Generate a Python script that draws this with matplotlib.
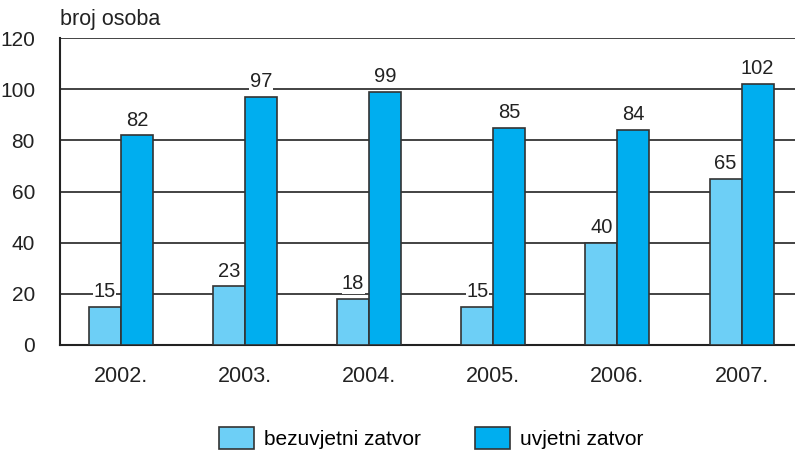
import numpy as np
import matplotlib.pyplot as plt

plt.rcParams['font.family'] = ['Liberation Sans', 'DejaVu Sans']

years = ['2002.', '2003.', '2004.', '2005.', '2006.', '2007.']
bezuvjetni = [15, 23, 18, 15, 40, 65]
uvjetni = [82, 97, 99, 85, 84, 102]

light = '#6dcff6'
dark = '#00aeef'

fig = plt.figure(figsize=(7.95, 4.51), dpi=100)
ax = fig.add_axes([60 / 795, 1 - 345 / 451, 735 / 795, 307 / 451])

x = np.arange(len(years))
w = 0.258
b1 = ax.bar(x - w / 2, bezuvjetni, w, color=light, edgecolor='#333333', linewidth=1.2,
            label='bezuvjetni zatvor', zorder=3)
b2 = ax.bar(x + w / 2, uvjetni, w, color=dark, edgecolor='#333333', linewidth=1.2,
            label='uvjetni zatvor', zorder=3)

for rect, v in zip(list(b1) + list(b2), bezuvjetni + uvjetni):
    ax.text(rect.get_x() + rect.get_width() / 2, v + 2.2, str(v), ha='center', va='bottom',
            fontsize=14.5, color='#222222', zorder=4,
            bbox=dict(facecolor='white', edgecolor='none', pad=0.3))

ax.set_ylim(0, 120)
ax.set_xlim(-0.49, 5.43)
ax.set_yticks(range(0, 121, 20))
ax.yaxis.grid(True, color='#222222', linewidth=1.2, zorder=0)
ax.set_xticks(x)
ax.set_xticklabels(years)
ax.tick_params(axis='x', length=0, labelsize=15.5, colors='#222222', pad=15)
ax.tick_params(axis='y', length=0, labelsize=15, colors='#222222', pad=18)
for s in ['top', 'right']:
    ax.spines[s].set_visible(False)
ax.spines['left'].set_linewidth(1.5)
ax.spines['bottom'].set_linewidth(1.5)
ax.spines['left'].set_color('#222222')
ax.spines['bottom'].set_color('#222222')

fig.text(60 / 795, 1 - 20 / 451, 'broj osoba', fontsize=15.5, color='#222222', va='center')

fig.legend(handles=[b1, b2], loc='center', bbox_to_anchor=(431 / 795, 1 - 438 / 451),
           ncol=2, frameon=False, fontsize=15, handlelength=1.7, handleheight=1.2,
           columnspacing=2.6, handletextpad=0.45)

fig.savefig('out.png', dpi=100)
